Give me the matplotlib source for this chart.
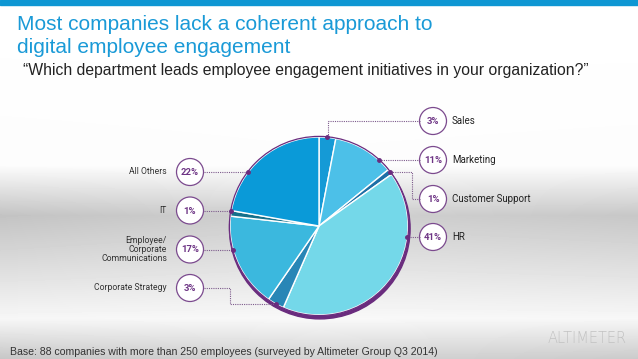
import numpy as np
import matplotlib
matplotlib.use("Agg")
import matplotlib.pyplot as plt
from matplotlib.patches import Circle, Rectangle

# =============================================================================
# DATA
# =============================================================================

departments = ["Sales", "Marketing", "Customer Support", "HR",
               "Corporate Strategy", "Employee/\nCorporate\nCommunications",
               "IT", "All Others"]
shares = [3, 11, 1, 41, 3, 17, 1, 22]
pct_labels = [f"{v}%" for v in shares]
slice_colors = ["#159ad6", "#4cc0e8", "#1d6fa6", "#74d8e9",
                "#2886b6", "#3bb8de", "#15708b", "#0a9ad8"]
# which side of the pie each label sits on
sides = ["R", "R", "R", "R", "L", "L", "L", "L"]

title_lines = ["Most companies lack a coherent approach to",
               "digital employee engagement"]
subtitle = "\u201cWhich department leads employee engagement initiatives in your organization?\u201d"
footer = "Base: 88 companies with more than 250 employees (surveyed by Altimeter Group Q3 2014)"

# =============================================================================
# LAYOUT (pixel coordinates, y downwards)
# =============================================================================

W, H = 638, 359
CX, CY, R = 319, 226, 89
PURPLE = "#6a2c7e"
BUBBLE_R = 13.5
right_bubble_x, left_bubble_x = 433, 190
right_bubble_y = [121, 160, 199, 237]
left_bubble_y = [288, 249.5, 210.5, 172]
elbow = {0: 328, 2: 412, 4: 230}   # slices whose leader bends

fig = plt.figure(figsize=(W / 100, H / 100), dpi=100)
ax = fig.add_axes([0, 0, 1, 1])
ax.set_xlim(0, W)
ax.set_ylim(H, 0)
ax.axis("off")

# background: white top, soft grey reflective band below
yy = np.arange(H)
prof = np.interp(yy, [0, 165, 215, 250, 318, 359], [1.0, 0.99, 0.79, 0.85, 0.97, 0.80])
xx = np.arange(W)
hmod = np.interp(xx, [0, 320, 638], [-0.03, 0.03, -0.01])
bg = np.clip(prof[:, None] + hmod[None, :] * (1 - prof[:, None]) * 4, 0, 1)
ax.imshow(bg, cmap="gray", vmin=0, vmax=1, extent=(0, W, H, 0),
          aspect="auto", zorder=0)

ax.add_patch(Rectangle((0, 0), W, 4.5, color="#0e97d3", zorder=1))

# titles
for k, line in enumerate(title_lines):
    ax.text(17, 30 + 23 * k, line, fontsize=15, color="#1a9ad7",
            family="Liberation Sans", va="baseline", zorder=3)
ax.text(23, 75, subtitle, fontsize=11.3, color="#222222", family="Liberation Sans",
        va="baseline", zorder=3)
ax.text(10, 355, footer, fontsize=7.6, color="#333333", family="Liberation Sans",
        va="baseline", zorder=3)
ax.text(587, 343, "ALTIMETER", fontsize=10.5, color="#c2c2c2", family="DejaVu Sans",
        fontweight="light", ha="center", va="baseline", zorder=3)

# pie shadow / outline
ax.add_patch(Circle((CX + 0.8, CY + 2.6), R + 1.3, color=PURPLE, zorder=2))
wedges, _ = ax.pie(shares, colors=slice_colors, center=(CX, CY), radius=R,
                   startangle=-90, counterclock=True, normalize=True,
                   wedgeprops=dict(edgecolor="white", linewidth=1))
for w in wedges:
    w.set_zorder(3)
ax.add_patch(Circle((CX, CY), R + 0.6, fill=False, edgecolor=PURPLE,
                    linewidth=0.9, zorder=4))
ax.set_xlim(0, W)
ax.set_ylim(H, 0)
ax.set_aspect("auto")

# bubbles, labels and leader lines
ri, li = 0, 0
for i, (name, pct, side, w) in enumerate(zip(departments, pct_labels, sides, wedges)):
    if side == "R":
        bx, by = right_bubble_x, right_bubble_y[ri]
        ri += 1
        sgn = 1
    else:
        bx, by = left_bubble_x, left_bubble_y[li]
        li += 1
        sgn = -1
    ax.add_patch(Circle((bx, by), BUBBLE_R, facecolor="white", edgecolor="#7b4a8e",
                        linewidth=0.9, zorder=5))
    ax.text(bx, by + 0.5, pct, fontsize=6.8, fontweight="bold", color="#6e3585",
            family="Roboto", ha="center", va="center", zorder=6)
    if side == "R":
        ax.text(bx + 19, by, name, fontsize=7, color="#222222", family="Roboto",
                ha="left", va="center", zorder=6)
    else:
        ax.text(bx - 23, by, name, fontsize=6.2, color="#333333", family="Roboto",
                ha="right", va="center", multialignment="right",
                linespacing=1.0, zorder=6)

    start_x = bx - sgn * BUBBLE_R
    if i in elbow:
        mid = np.deg2rad((w.theta1 + w.theta2) / 2)
        ex, ey = CX + R * np.cos(mid), CY + R * np.sin(mid)
        kx = elbow[i]
        xs, ys = [start_x, kx, kx, ex], [by, by, ey, ey]
    else:
        ex = CX + sgn * np.sqrt(R ** 2 - (by - CY) ** 2)
        ey = by
        xs, ys = [start_x, ex], [by, by]
    ax.plot(xs, ys, color="#7d5b8c", linewidth=0.8, linestyle=(0, (1, 1)), zorder=5)
    ax.plot([ex], [ey], "o", color=PURPLE, markersize=2.5, zorder=6)

fig.savefig("out.png", dpi=100)
